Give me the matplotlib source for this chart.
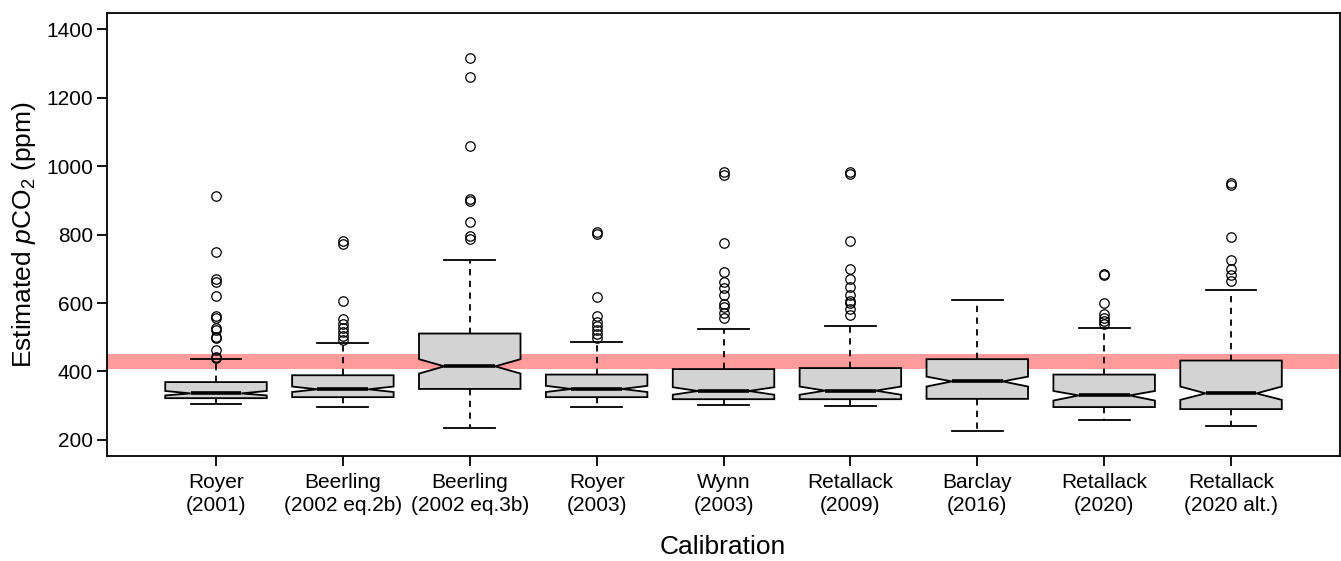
import matplotlib
matplotlib.use('Agg')
import matplotlib.pyplot as plt

plt.rcParams['font.family'] = ['Liberation Sans', 'DejaVu Sans']
plt.rcParams['mathtext.fontset'] = 'custom'
plt.rcParams['mathtext.rm'] = 'Liberation Sans'
plt.rcParams['mathtext.it'] = 'Liberation Sans:italic'

# calibrations
labels = ['Royer\n(2001)', 'Beerling\n(2002 eq.2b)', 'Beerling\n(2002 eq.3b)',
          'Royer\n(2003)', 'Wynn\n(2003)', 'Retallack\n(2009)',
          'Barclay\n(2016)', 'Retallack\n(2020)', 'Retallack\n(2020 alt.)']

# box statistics (ppm)
whis_lo = [305, 296, 234, 296, 301, 298, 225, 258, 242]
q1 = [322, 325, 349, 325, 319, 319, 320, 296, 290]
ci_lo = [330, 340, 394, 340, 332, 332, 356, 315, 317]
med = [336, 348, 415, 349, 343, 344, 371, 330, 336]
ci_hi = [343, 356, 436, 358, 354, 356, 385, 343, 356]
q3 = [369, 389, 511, 391, 407, 410, 436, 391, 432]
whis_hi = [437, 482, 725, 486, 525, 533, 609, 528, 637]

outliers = [
    [912, 748, 670, 663, 621, 562, 556, 526, 521, 502, 498, 464, 443, 440],
    [782, 772, 606, 553, 538, 526, 515, 504, 492],
    [1317, 1262, 1059, 905, 898, 836, 797, 787],
    [807, 801, 618, 562, 545, 534, 521, 510, 499],
    [984, 975, 777, 692, 663, 643, 624, 597, 590, 572, 557],
    [982, 977, 782, 699, 670, 647, 625, 605, 599, 582, 565],
    [],
    [685, 681, 601, 567, 557, 548, 539],
    [950, 945, 794, 726, 700, 681, 665],
]

# present-day CO2 band
band_lo, band_hi = 406, 450

stats = []
for i in range(len(labels)):
    stats.append(dict(label=labels[i], whislo=whis_lo[i], q1=q1[i],
                      cilo=ci_lo[i], med=med[i], cihi=ci_hi[i], q3=q3[i],
                      whishi=whis_hi[i], fliers=outliers[i]))

positions = list(range(1, len(labels) + 1))

fig = plt.figure(figsize=(13.41, 5.61), dpi=100)
ax = fig.add_axes([0.0796, 0.1872, 0.9193, 0.7902])

ax.axhspan(band_lo, band_hi, color='#ff9b9b', lw=0, zorder=0.5)

ax.bxp(stats, positions=positions, widths=0.8, capwidths=0.4,
       shownotches=True, patch_artist=True,
       boxprops=dict(facecolor='#d3d3d3', edgecolor='black', lw=1.3),
       medianprops=dict(color='black', lw=2.6, solid_capstyle='butt'),
       whiskerprops=dict(color='black', lw=1.3, linestyle=(0, (3.5, 3))),
       capprops=dict(color='black', lw=1.3),
       flierprops=dict(marker='o', markerfacecolor='none',
                       markeredgecolor='black', markersize=6.8,
                       markeredgewidth=0.9))

ax.set_xlim(0.139, 9.855)
ax.set_ylim(153, 1449)
ax.set_yticks([200, 400, 600, 800, 1000, 1200, 1400])
ax.set_xticks(positions)
ax.set_xticklabels(labels, fontsize=15, linespacing=1.3)
ax.tick_params(axis='y', labelsize=15, length=7, width=1.3, pad=3)
ax.tick_params(axis='x', length=7, width=1.3, pad=5)
for s in ax.spines.values():
    s.set_linewidth(1.3)

ax.set_ylabel(r'Estimated $\it{p}$CO$_2$ (ppm)', fontsize=19, labelpad=6)
ax.set_xlabel('Calibration', fontsize=19, labelpad=14)

fig.savefig('out.png', dpi=100)
